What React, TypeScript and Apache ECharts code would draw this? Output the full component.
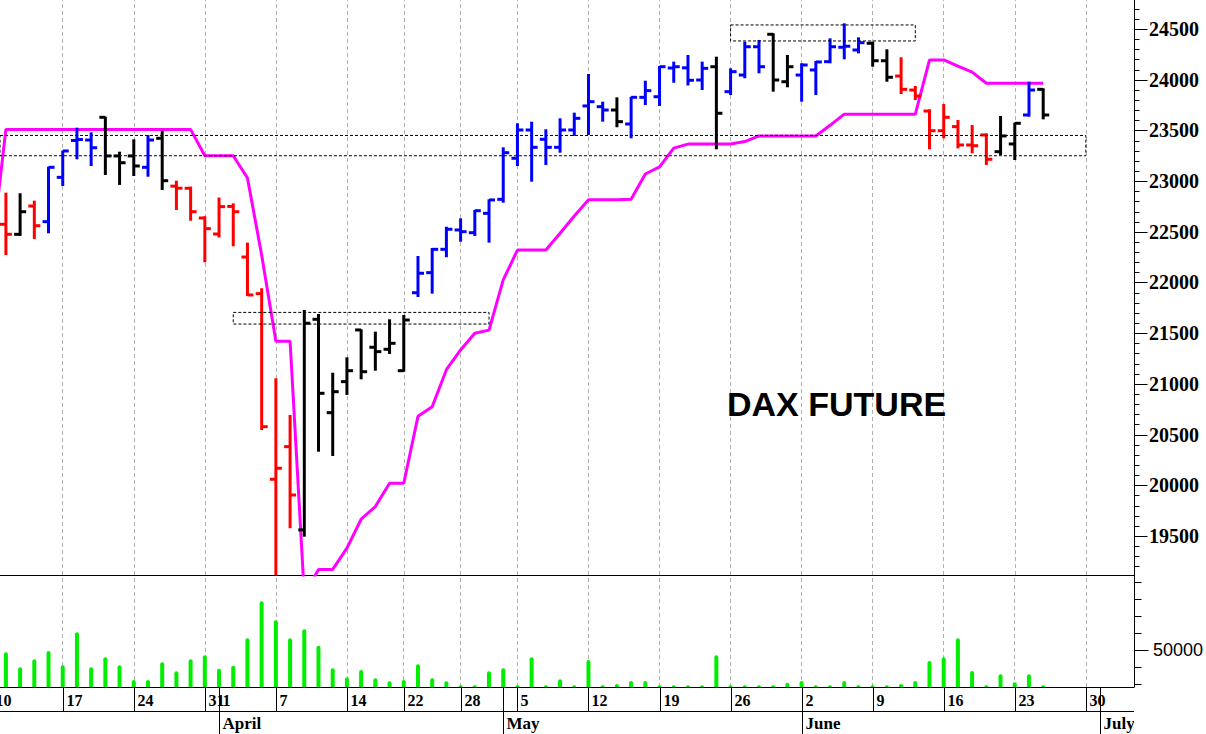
import React, { useEffect, useRef } from "react";
import * as echarts from "echarts";

// ---- trading days (index i = position in DATES) ----
const DATES = [
  "03-11", "03-12", "03-13", "03-14", "03-17", "03-18", "03-19", "03-20", "03-21",
  "03-24", "03-25", "03-26", "03-27", "03-28", "03-31",
  "04-01", "04-02", "04-03", "04-04", "04-07", "04-08", "04-09", "04-10", "04-11",
  "04-14", "04-15", "04-16", "04-17", "04-22", "04-23", "04-24", "04-25", "04-28", "04-29", "04-30",
  "05-02", "05-05", "05-06", "05-07", "05-08", "05-09", "05-12", "05-13", "05-14", "05-15", "05-16",
  "05-19", "05-20", "05-21", "05-22", "05-23", "05-26", "05-27", "05-28", "05-29", "05-30",
  "06-02", "06-03", "06-04", "06-05", "06-06", "06-09", "06-10", "06-11", "06-12", "06-13",
  "06-16", "06-17", "06-18", "06-19", "06-20", "06-23", "06-24", "06-25",
];

const OPEN = [
  22574, 22475, 22754, 22600, 23037, 23400, 23405, 23629, 23248, 23248, 23136, 23422, 22950, 22929, 22636,
  22478, 22750, 22251, 21890, 20059, 20381, 19560, 21637, 20716, 21022, 21532, 21361, 21341, 21130, 21899,
  22097, 22327, 22518, 22491, 22682, 22820, 23225, 23504, 23412, 23333, 23504, 23741, 23734, 23701, 23563,
  23826, 23832, 24115, 24117, 23997, 24128, 23882, 24046, 24325, 24448, 23980, 24046, 24096, 24178, 24320,
  24293, 24359, 24187, 24036, 23898, 23691, 23497, 23537, 23356, 23455, 23290, 23366, 23652, 23905,
];
const HIGH = [
  22886, 22880, 22807, 23142, 23300, 23527, 23481, 23635, 23290, 23412, 23455, 23497, 23004, 22945, 22653,
  22838, 22781, 22393, 21943, 21055, 20693, 21729, 21689, 21110, 21262, 21538, 21515, 21637, 21679, 22261,
  22340, 22550, 22633, 22715, 22820, 23333, 23570, 23586, 23511, 23619, 23675, 24056, 23783, 23826, 23832,
  23990, 24135, 24178, 24244, 24178, 24227, 24112, 24375, 24392, 24458, 24244, 24162, 24185, 24408, 24556,
  24418, 24375, 24300, 24221, 23938, 23708, 23760, 23603, 23553, 23471, 23642, 23576, 23980, 23915,
];
const LOW = [
  22271, 22459, 22429, 22485, 22952, 23215, 23149, 23060, 22962, 23050, 23043, 22912, 22715, 22609, 22199,
  22444, 22357, 21867, 20545, 18800, 19576, 19493, 20331, 20289, 20891, 21045, 21130, 21295, 21120, 21857,
  21890, 22249, 22402, 22459, 22393, 22787, 23149, 22994, 23159, 23280, 23445, 23455, 23586, 23531, 23422,
  23750, 23741, 23970, 23943, 23898, 23314, 23849, 24014, 24063, 23882, 23925, 23783, 23849, 24162, 24201,
  24260, 24128, 23980, 23859, 23800, 23314, 23422, 23323, 23274, 23159, 23257, 23208, 23635, 23609,
];
const CLOSE = [
  22475, 22698, 22560, 23136, 23297, 23410, 23329, 23248, 23181, 23149, 23405, 23004, 22930, 22698, 22531,
  22748, 22698, 21877, 20578, 20168, 19904, 21598, 20907, 20923, 21130, 21120, 21318, 21400, 21630, 22091,
  22327, 22525, 22501, 22708, 22814, 23280, 23504, 23333, 23333, 23504, 23619, 23783, 23701, 23586, 23826,
  23892, 24128, 24128, 23994, 24112, 23669, 24079, 24325, 24128, 23997, 24128, 24145, 24175, 24325, 24330,
  24365, 24187, 24024, 23905, 23839, 23497, 23629, 23356, 23349, 23215, 23445, 23570, 23898, 23652,
];
// r = red, b = blue, k = black
const BAR_COLOR = [
  "r", "k", "r", "b", "b", "b", "b", "k", "k", "k", "b", "k", "r", "r", "r",
  "r", "r", "r", "r", "r", "r", "k", "k", "k", "k", "k", "k", "k", "k", "b",
  "b", "b", "b", "b", "b", "b", "b", "b", "b", "b", "b", "b", "b", "k", "b",
  "b", "b", "b", "b", "b", "k", "b", "b", "b", "k", "k", "b", "b", "b", "b",
  "b", "k", "k", "r", "r", "r", "r", "r", "r", "r", "k", "k", "b", "k",
];

// magenta stop line, first value is 03-10 (index -1)
const STOP_LINE = [
  22300,
  23510, 23510, 23510, 23510, 23510, 23510, 23510, 23510, 23510, 23510, 23510, 23510, 23510, 23510,
  23250, 23250, 23250, 23030, 22270, 21420, 21420, 18920, 19170, 19170, 19380, 19665, 19790, 20020,
  20020, 20680, 20775, 21140, 21335, 21500, 21530, 22025, 22320, 22320, 22320, 22485, 22655, 22815,
  22815, 22815, 22820, 23070, 23140, 23325, 23365, 23365, 23365, 23365, 23390, 23445, 23445, 23445,
  23445, 23445, 23550, 23660, 23660, 23660, 23660, 23660, 23660, 24195, 24195, 24135, 24075, 23965,
  23965, 23965, 23965, 23965,
];

const VOLUME = [
  48700, 39900, 44600, 49400, 41100, 60400, 39900, 45700, 41100, 32500, 32500, 42800, 37500, 44600, 46900,
  39100, 40800, 56800, 78500, 67400, 56800, 62100, 52500, 39300, 34000, 38300, 33500, 31700, 32500, 41600,
  33500, 31700, 29400, 29400, 37500, 39300, 29400, 45700, 29400, 32900, 29400, 44200, 29400, 30100, 31900,
  31900, 29400, 29400, 29400, 29400, 46900, 29400, 29400, 29400, 29400, 30900, 31900, 29400, 29400, 31900,
  29400, 29400, 29400, 30100, 31900, 43600, 45700, 56800, 37700, 29400, 35800, 31100, 35800, 29400,
];

// dashed boxes: [fromIndex, toIndex, low, high]
const BOX_FROM = [-2, 16, 51];
const BOX_TO = [76, 34, 64];
const BOX_LOW = [23250, 21590, 24382];
const BOX_HIGH = [23450, 21705, 24540];

// weekly grid (Mondays) as day index
const WEEK_IDX = [4, 9, 14, 19, 24, 28, 32, 36, 41, 46, 51, 56, 61, 66, 71, 76];
// date row labels
const DATE_LABEL_IDX = [-1, 4, 9, 14, 15, 19, 24, 28, 32, 36, 41, 46, 51, 56, 61, 66, 71, 76];
const DATE_LABELS = ["10", "17", "24", "31", "1", "7", "14", "22", "28", "5", "12", "19", "26", "2", "9", "16", "23", "30"];
const MONTH_IDX = [15, 35, 56, 77];
const MONTH_LABELS = ["April", "May", "June", "July"];

const PRICE_TICKS = [19500, 20000, 20500, 21000, 21500, 22000, 22500, 23000, 23500, 24000, 24500];
const VOL_TICKS = [30000, 40000, 50000, 60000, 70000, 80000, 90000];
const VOL_LABELS = [50000];

const XMIN = -0.415;
const XMAX = 79.39;
const YMIN = 19115;
const YMAX = 24786;
const VMIN = 28360;
const VMAX = 93860;

const COLORS: Record<string, string> = { r: "#ff0000", b: "#0000ff", k: "#000000" };

function priceTickRows() {
  const rows: number[][] = [];
  for (let v = 19200; v <= 24700; v += 100) {
    rows.push([XMAX, v, PRICE_TICKS.indexOf(v) >= 0 ? 13 : 5]);
  }
  return rows;
}

export default function App() {
  const ref = useRef<HTMLDivElement>(null);
  useEffect(() => {
    const chart = echarts.init(ref.current!, null, { renderer: "svg" });
    const gridLineStyle = { color: "#b0b0b0", width: 1, type: [4, 3] };
    const weekMarkLine = {
      silent: true,
      z: 1,
      symbol: ["none", "none"],
      label: { show: false },
      lineStyle: gridLineStyle,
      emphasis: { disabled: true },
      data: WEEK_IDX.map((v) => ({ xAxis: v })),
    };
    const axisItems = [
      ...DATE_LABEL_IDX.map((d, k) => [d, 0, k]),
      ...MONTH_IDX.map((d, k) => [d, 1, k]),
    ];
    const plain = (v: number) => String(v);
    const tickRender = (params: any, api: any) => {
      const p = api.coord([api.value(0), api.value(1)]);
      const x = Math.round(p[0]) + 0.5;
      const y = Math.round(p[1]) + 0.5;
      return {
        type: "line",
        shape: { x1: x, y1: y, x2: x + api.value(2), y2: y },
        style: { stroke: "#000", lineWidth: 1 },
      };
    };
    const option: any = {
      animation: false,
      backgroundColor: "#ffffff",
      grid: [
        { left: 0, top: 0, width: 1134, height: 575 },
        { left: 0, top: 575, width: 1134, height: 112 },
        { left: 0, top: 687, width: 1134, height: 47 },
      ],
      xAxis: [0, 1, 2].map((g) => ({
        type: "value",
        gridIndex: g,
        min: XMIN,
        max: XMAX,
        show: g < 2,
        axisLine: { show: true, onZero: false, lineStyle: { color: "#000", width: 1 } },
        axisTick: { show: false },
        axisLabel: { show: false },
        splitLine: { show: false },
      })),
      yAxis: [
        {
          type: "value", gridIndex: 0, position: "right", min: YMIN, max: YMAX,
          axisLine: { show: true, onZero: false, lineStyle: { color: "#000", width: 1 } },
          axisTick: { show: false },
          axisLabel: {
            show: true, customValues: PRICE_TICKS, margin: 15, color: "#000", formatter: plain,
            fontFamily: "Liberation Serif", fontWeight: "bold", fontSize: 20,
          },
          splitLine: { show: false },
        },
        {
          type: "value", gridIndex: 1, position: "right", min: VMIN, max: VMAX,
          axisLine: { show: true, onZero: false, lineStyle: { color: "#000", width: 1 } },
          axisTick: { show: false },
          axisLabel: {
            show: true, customValues: VOL_LABELS, margin: 19, color: "#000", formatter: plain,
            fontFamily: "Liberation Sans", fontSize: 18,
          },
          splitLine: { show: false },
        },
        { type: "value", gridIndex: 2, min: 0, max: 1, show: false, axisLine: { onZero: false } },
      ],
      graphic: [
        {
          type: "text", x: 727, y: 404, z: 10,
          style: {
            text: "DAX FUTURE", fill: "#000", fontFamily: "Liberation Sans", fontWeight: "bold",
            fontSize: 34, verticalAlign: "middle", align: "left",
          },
        },
      ],
      series: [
        {
          type: "line",
          xAxisIndex: 0, yAxisIndex: 0, z: 2,
          data: STOP_LINE.map((v, k) => [k - 1, v]),
          symbol: "none", showSymbol: false,
          lineStyle: { color: "#ff00ff", width: 3 },
          markLine: weekMarkLine,
          markArea: {
            silent: true,
            z: 4,
            itemStyle: { color: "rgba(0,0,0,0)", borderColor: "#000", borderWidth: 1, borderType: [3, 2] },
            label: { show: false },
            data: BOX_FROM.map((f, k) => [
              { coord: [f, BOX_HIGH[k]] },
              { coord: [BOX_TO[k], BOX_LOW[k]] },
            ]),
          },
        },
        {
          type: "custom",
          xAxisIndex: 0, yAxisIndex: 0, z: 3, clip: true,
          data: DATES.map((_, i) => [i, OPEN[i], HIGH[i], LOW[i], CLOSE[i]]),
          encode: { x: 0, y: [1, 2, 3, 4] },
          renderItem: (params: any, api: any) => {
            const i = api.value(0);
            const pH = api.coord([i, api.value(2)]);
            const pL = api.coord([i, api.value(3)]);
            const pO = api.coord([i, api.value(1)]);
            const pC = api.coord([i, api.value(4)]);
            const style = { stroke: COLORS[BAR_COLOR[params.dataIndex]], lineWidth: 3 };
            return {
              type: "group",
              children: [
                { type: "line", shape: { x1: pH[0], y1: pH[1], x2: pL[0], y2: pL[1] }, style },
                { type: "line", shape: { x1: pO[0] - 6, y1: pO[1], x2: pO[0], y2: pO[1] }, style },
                { type: "line", shape: { x1: pC[0], y1: pC[1], x2: pC[0] + 6, y2: pC[1] }, style },
              ],
            };
          },
        },
        {
          // price axis ticks (major 500 / minor 100)
          type: "custom",
          xAxisIndex: 0, yAxisIndex: 0, z: 5, clip: false, silent: true,
          data: priceTickRows(),
          encode: { x: 0, y: 1 },
          renderItem: tickRender,
        },
        {
          type: "bar",
          xAxisIndex: 1, yAxisIndex: 1, z: 2,
          data: VOLUME.map((v, i) => [i, v]),
          barWidth: 4,
          itemStyle: { color: "#00ee00", borderRadius: [2, 2, 0, 0] },
          markLine: weekMarkLine,
        },
        {
          // volume axis ticks
          type: "custom",
          xAxisIndex: 1, yAxisIndex: 1, z: 5, clip: false, silent: true,
          data: VOL_TICKS.map((v) => [XMAX, v, VOL_LABELS.indexOf(v) >= 0 ? 14 : 7]),
          encode: { x: 0, y: 1 },
          renderItem: tickRender,
        },
        {
          type: "custom",
          xAxisIndex: 2, yAxisIndex: 2, z: 3, clip: true,
          data: axisItems,
          encode: { x: 0, y: 1 },
          renderItem: (params: any, api: any) => {
            const idx = api.value(0);
            const kind = api.value(1);
            const k = api.value(2);
            const cs = params.coordSys;
            const x = Math.round(api.coord([idx, 0])[0]) + 0.5;
            const top = cs.y;
            const mid = cs.y + 24.5;
            const bottom = cs.y + cs.height;
            const line = { stroke: "#000", lineWidth: 1 };
            const font = { fontFamily: "Liberation Serif", fontWeight: "bold", fontSize: 16, fill: "#000", verticalAlign: "middle", align: "left" };
            const children: any[] = [];
            if (kind === 0) {
              children.push({ type: "line", shape: { x1: x, y1: top, x2: x, y2: mid }, style: line });
              children.push({ type: "text", x: x + 3, y: (top + mid) / 2 + 1, style: { ...font, text: DATE_LABELS[k] } });
            } else {
              children.push({ type: "line", shape: { x1: x, y1: top, x2: x, y2: bottom }, style: line });
              children.push({ type: "text", x: x + 3, y: (mid + bottom) / 2 + 1, style: { ...font, fontSize: 17, text: MONTH_LABELS[k] } });
            }
            if (params.dataIndex === 0) {
              children.push({ type: "line", shape: { x1: cs.x, y1: mid, x2: cs.x + cs.width, y2: mid }, style: line });
            }
            return { type: "group", children };
          },
        },
      ],
    };
    chart.setOption(option);
    return () => chart.dispose();
  }, []);
  return (
    <div
      ref={ref}
      style={{ position: "absolute", left: 0, top: 0, width: 1206, height: 734, background: "#fff" }}
    />
  );
}
